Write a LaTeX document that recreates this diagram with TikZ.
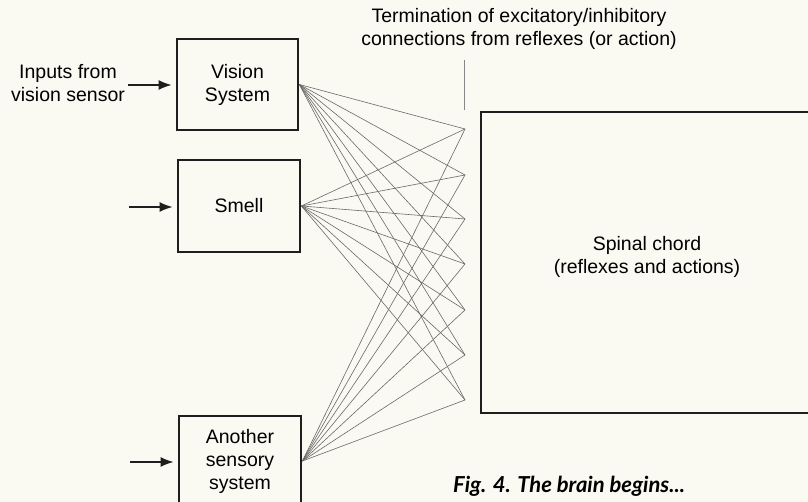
\documentclass[tikz,border=0pt]{standalone}
\usepackage{fontspec}
\setmainfont{Liberation Sans}
\newfontfamily\capfont{Lato}
\usetikzlibrary{arrows.meta}
\definecolor{paper}{RGB}{250,250,243}
\definecolor{ink}{RGB}{30,30,30}
\definecolor{fanc}{RGB}{105,105,105}
\tikzset{
  box/.style={draw=ink, line width=2.8pt, inner sep=0pt, align=center},
  lbl/.style={align=center, inner sep=0pt},
  inarrow/.style={draw=ink, line width=1.4pt, -{Latex[length=13pt,width=10pt]}},
  fan/.style={draw=fanc, line width=0.6pt},
  tick/.style={draw=fanc!80, line width=0.8pt}
}
\begin{document}
\begin{tikzpicture}[x=1pt,y=-1pt, font=\fontsize{19.5}{23}\selectfont]
\useasboundingbox (0,0) rectangle (808,502);
\fill[paper] (0,0) rectangle (808,502);

% sensory boxes
\node[box, minimum width=121pt, minimum height=91pt] (vision) at (237.5,84.5) {Vision\\System};
\node[box, minimum width=122pt, minimum height=92pt] (smell) at (239,206) {Smell};
\node[box, minimum width=122pt, minimum height=90pt] (another) at (240,461) {Another\\sensory\\system};

% spinal chord box (right side runs off the page)
\node[box, minimum width=332pt, minimum height=301pt] (spinal) at (647,262.5) {};
\node[lbl] (spinaltext) at (647,256.5) {Spinal chord\\(reflexes and actions)};

% input labels and arrows
\node[lbl] (inputs) at (68,83.5) {Inputs from\\vision sensor};
\coordinate (inA) at (128,85);
\coordinate (inB) at (129,207);
\coordinate (inC) at (130,462);
\draw[inarrow] (inA) -- ([xshift=-4pt]vision.west |- inA);
\draw[inarrow] (inB) -- ([xshift=-4pt]smell.west |- inB);
\draw[inarrow] (inC) -- ([xshift=-4pt]another.west |- inC);

% termination points
\foreach \i/\yy in {1/129,2/175,3/219,4/264,5/310,6/355,7/400}{
  \coordinate (t\i) at (465,\yy);
}
\foreach \s in {vision,smell,another}{
  \foreach \i in {1,...,7}{
    \draw[fan] (\s.east) -- (t\i);
  }
}

% termination label and tick
\node[lbl] (termlabel) at (519,29) {Termination of excitatory/inhibitory\\connections from reflexes (or action)};
\coordinate (tickA) at (464,60);
\coordinate (tickB) at (464,110);
\draw[tick] (tickA) -- (tickB);

% caption
\node[lbl, anchor=base west] (caption) at (453,492) {\capfont\bfseries\itshape\fontsize{22}{26}\selectfont Fig. 4. The brain begins...};
\end{tikzpicture}
\end{document}
